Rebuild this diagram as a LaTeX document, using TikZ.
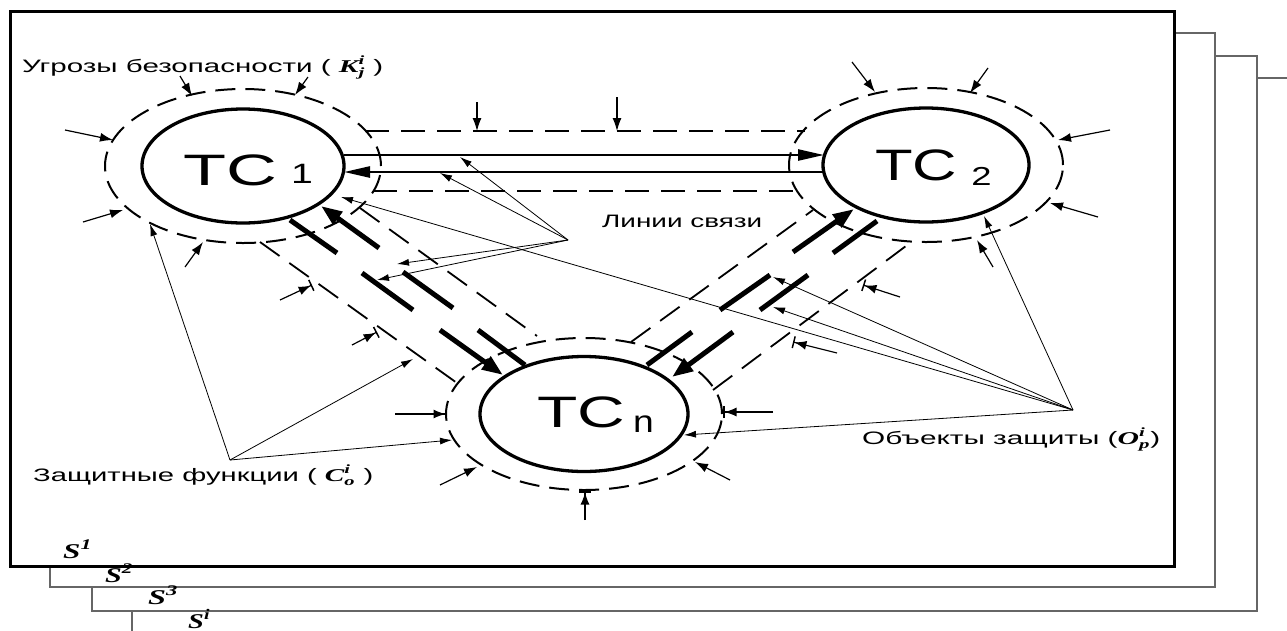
\documentclass[tikz,border=0pt]{standalone}
\usepackage{fontspec}
\usepackage{amsmath}
\usepackage{graphicx}
\usetikzlibrary{arrows.meta,shapes.geometric}
\setmainfont{Liberation Sans}
\newfontfamily\tnr{Liberation Serif}
% bold italic serif letters for the set symbols
\newcommand\mi[1]{\text{\tnr\bfseries\itshape #1}}
% stretch a text horizontally to a given width, keeping its height
\newcommand\fitw[2]{\resizebox{#1}{\height}{#2}}

\begin{document}
\begin{tikzpicture}[x=1pt,y=-1pt,
  page/.style={draw=black!60, line width=1.5pt, fill=white},
  mainpage/.style={draw=black, line width=3pt, fill=white},
  tcnode/.style={ellipse, draw, line width=3.3pt, inner sep=0pt},
  ring/.style={line width=2pt, dash pattern=on 20pt off 10pt},
  corridor/.style={line width=1.8pt, dash pattern=on 24pt off 12pt},
  chan/.style={line width=5pt},
  chanarrow/.style={-{Triangle[length=21pt,width=15pt]}},
  hchan/.style={line width=2.5pt},
  hchanarrow/.style={-{Triangle[length=26pt,width=11pt]}},
  threat/.style={line width=1.2pt, -{Latex[length=13pt,width=9pt]}},
  barthreat/.style={line width=1.2pt, -{Latex[length=12pt,width=9pt] Bar[width=12pt,line width=1.5pt]}},
  lead/.style={line width=0.8pt, -{Latex[length=12pt,width=7pt]}},
  label/.style={inner sep=0pt, anchor=base west, font=\fontsize{18}{18}\selectfont},
  tctext/.style={inner sep=0pt, anchor=base west, font=\fontsize{44}{44}\selectfont},
  slabel/.style={inner sep=0pt, anchor=base west, font=\fontsize{21}{21}\selectfont}
]
\useasboundingbox (0,0) rectangle (1287,630);
\fill[white] (0,0) rectangle (1287,630);

% stack of sheets S^1 ... S^i
\draw[page] (132,78) rectangle (1300,645);
\draw[page] (92,56) rectangle (1257,611);
\draw[page] (50,33) rectangle (1215,587);
\draw[mainpage] (10,11) rectangle (1174,566);

% technical systems
\node[tcnode, minimum width=202pt, minimum height=114pt] (tc1) at (243,166) {};
\node[tcnode, minimum width=206pt, minimum height=114pt] (tc2) at (926,165) {};
\node[tcnode, minimum width=208pt, minimum height=115pt] (tcn) at (584,414) {};

% protection rings
\draw[ring] (tc1.center) ellipse [x radius=138pt, y radius=77pt];
\draw[ring] (tc2.center) ellipse [x radius=137pt, y radius=77pt];
\draw[ring] (tcn.center) ellipse [x radius=138pt, y radius=76pt];

% protected corridors of the communication lines
\draw[corridor] (365,131) -- (805,131);
\draw[corridor] (373,191) -- (797,191);
\draw[corridor] (260,242) -- (457,383);
\draw[corridor] (360,208) -- (537,336);
\draw[corridor] (631,342) -- (813,210);
\draw[corridor] (713,390) -- (910,243);

% TC1 <-> TC2
\draw[hchan, hchanarrow] (344,155) -- (824,155);
\draw[hchan, hchanarrow] (823,172) -- (344,172);

% TC1 <-> TCn
\draw[chan] (290,220) -- (337,253);
\draw[chan, chanarrow] (379,248) -- (321,206);
\draw[chan] (362,273) -- (413,310);
\draw[chan] (403,272) -- (453,308);
\draw[chan, chanarrow] (440,330) -- (503,375);
\draw[chan] (478,330) -- (525,365);

% TC2 <-> TCn
\draw[chan, chanarrow] (793,252) -- (854,209);
\draw[chan] (833,253) -- (877,221);
\draw[chan] (720,310) -- (770,275);
\draw[chan] (760,310) -- (808,275);
\draw[chan] (647,365) -- (692,332);
\draw[chan, chanarrow] (733,332) -- (672,377);

% threats acting on TC1
\draw[threat] (180,76) -- (192,96);
\draw[threat] (308,77) -- (295,95);
\draw[threat] (65,130) -- (113,140);
\draw[threat] (83,222) -- (123,210);
\draw[threat] (185,267) -- (203,242);
% threats acting on the line TC1-TC2
\draw[threat] (477,102) -- (477,131);
\draw[threat] (617,97) -- (617,131);
% threats acting on TC2
\draw[threat] (852,62) -- (875,92);
\draw[threat] (988,68) -- (970,93);
\draw[threat] (1110,130) -- (1058,140);
\draw[threat] (1098,217) -- (1050,203);
\draw[threat] (993,267) -- (977,240);
% threats acting on the line TC2-TCn
\draw[barthreat] (900,297) -- (863,285);
\draw[barthreat] (837,353) -- (793,342);
% threats acting on the line TC1-TCn
\draw[barthreat] (280,300) -- (312,285);
\draw[barthreat] (352,345) -- (377,332);
% threats acting on TCn
\draw[barthreat] (395,414) -- (447,414);
\draw[threat] (440,485) -- (477,467);
\draw[barthreat] (585,520) -- (585,491);
\draw[threat] (730,480) -- (695,462);
\draw[barthreat] (773,412) -- (723,412);

% labels
\node[label] (threats) at (22,72) {\fitw{361pt}{Угрозы безопасности ( $\mi{K}^{\mi{i}}_{\mi{j}}$ )}};
\node[label] (lines) at (602,227) {\fitw{160pt}{Линии связи}};
\node[label] (funcs) at (33,481) {\fitw{340pt}{Защитные функции ( $\mi{C}^{\mi{i}}_{\mi{o}}$ )}};
\node[label] (objs) at (862,444) {\fitw{298pt}{Объекты защиты ($\mi{O}^{\mi{i}}_{\mi{p}}$)}};

\node[tctext] (tc1t) at (183,185) {\scalebox{1.6}[1]{TC}\hspace{14pt}\raisebox{2pt}{\scalebox{1.4}[1]{\fontsize{28}{28}\selectfont 1}}};
\node[tctext] (tc2t) at (875,180) {\scalebox{1.4}[1]{TC}\hspace{14pt}\raisebox{-5pt}{\scalebox{1.4}[1]{\fontsize{26}{26}\selectfont 2}}};
\node[tctext] (tcnt) at (537,427) {\scalebox{1.5}[1]{TC}\hspace{8pt}\raisebox{-5pt}{\scalebox{1.2}[1]{\fontsize{31}{31}\selectfont n}}};

\node[slabel] (s1) at (63,558) {\fitw{29pt}{$\mi{S}^{\mi{1}}$}};
\node[slabel] (s2) at (105,582) {\fitw{28pt}{$\mi{S}^{\mi{2}}$}};
\node[slabel] (s3) at (148,604) {\fitw{30pt}{$\mi{S}^{\mi{3}}$}};
\node[slabel] (si) at (188,628) {\fitw{22pt}{$\mi{S}^{\mi{i}}$}};

% leader points
\coordinate (lsv) at (568,240);
\coordinate (zf) at (230,460);
\coordinate (ob) at (1073,410);

\draw[lead] (lsv) -- (460,157);
\draw[lead] (lsv) -- (440,173);
\draw[lead] (lsv) -- (397,264);
\draw[lead] (lsv) -- (377,280);

\draw[lead] (zf) -- (150,224);
\draw[lead] (zf) -- (413,359);
\draw[lead] (zf) -- (452,440);

\draw[lead] (ob) -- (984,216);
\draw[lead] (ob) -- (773,277);
\draw[lead] (ob) -- (773,307);
\draw[lead] (ob) -- (341,197);
\draw[lead] (ob) -- (684,435);
\end{tikzpicture}
\end{document}
